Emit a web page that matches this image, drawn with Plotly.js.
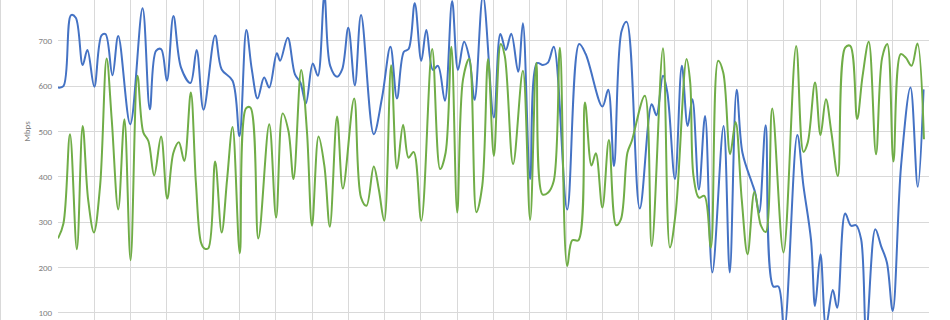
<!DOCTYPE html>
<html>
<head>
<meta charset="utf-8">
<script src="https://cdn.plot.ly/plotly-3.0.1.min.js"></script>
<style>
  html, body { margin: 0; padding: 0; width: 950px; height: 320px; overflow: hidden; background: #ffffff; }
  #wrap { position: absolute; left: 0; top: 0; width: 950px; height: 320px; overflow: hidden; }
  #chart { position: absolute; left: 0; top: -95px; width: 950px; height: 493px; }
  #edge { position: absolute; left: 0; top: 0; width: 1px; height: 320px; background: #d9d9d9; }
</style>
</head>
<body>
<div id="wrap"><div id="chart"></div><div id="edge"></div></div>
<script>
// Time positions (in grid-interval units) and throughput values (Mbps)
const blueX = [0, 0.15, 0.36, 0.49, 0.68, 0.81, 1.00, 1.20, 1.31, 1.50, 1.66, 1.99, 2.33, 2.53, 2.70, 2.84, 3.00, 3.18, 3.39, 3.65,
  3.82, 4.01, 4.33, 4.51, 4.81, 5.00, 5.19, 5.34, 5.50, 5.68, 5.82, 6.03, 6.12, 6.33, 6.53, 6.68, 6.83, 7.02, 7.16, 7.34,
  7.50, 7.69, 7.83, 8.00, 8.18, 8.35, 8.70, 8.93, 9.16, 9.34, 9.53, 9.66, 9.83, 10.01, 10.15, 10.33, 10.47, 10.66, 10.86, 11.02,
  11.19, 11.34, 11.48, 11.71, 12.01, 12.19, 12.34, 12.49, 12.68, 12.81, 13.01, 13.20, 13.36, 13.50, 13.66, 14.03, 14.36, 14.54, 15.00, 15.16,
  15.32, 15.53, 15.67, 16.03, 16.36, 16.49, 16.67, 16.79, 17.00, 17.19, 17.35, 17.48, 17.66, 17.83, 18.03, 18.34, 18.51, 18.70, 18.86, 19.12,
  19.21, 19.32, 19.50, 19.71, 19.85, 20.01, 20.37, 20.54, 20.75, 20.86, 21.01, 21.16, 21.35, 21.47, 21.69, 21.85, 21.99, 22.13, 22.27, 22.52,
  22.68, 22.84, 23.00, 23.23, 23.49, 23.69, 23.85];
const blueY = [597, 600, 757, 751, 647, 680, 599, 712, 715, 624, 711, 516, 772, 549, 678, 682, 612, 755, 641, 607,
  680, 548, 712, 637, 612, 490, 724, 637, 573, 619, 597, 673, 656, 707, 626, 608, 562, 650, 623, 800,
  645, 621, 637, 729, 602, 757, 494, 575, 687, 573, 676, 682, 783, 656, 724, 636, 645, 568, 788, 636,
  698, 660, 570, 800, 531, 715, 680, 716, 632, 739, 395, 651, 647, 652, 687, 328, 693, 671, 555, 592,
  424, 722, 742, 330, 560, 536, 623, 586, 395, 645, 512, 571, 372, 534, 189, 512, 189, 592, 453, 387,
  365, 321, 514, 158, 158, 60, 492, 380, 260, 115, 229, 70, 150, 111, 319, 292, 293, 262, 55, 284,
  247, 211, 104, 424, 597, 378, 593];

const greenX = [0, 0.15, 0.33, 0.52, 0.68, 0.83, 0.99, 1.16, 1.34, 1.48, 1.66, 1.83, 2.00, 2.19, 2.35, 2.49, 2.65, 2.84, 3.01, 3.18,
  3.33, 3.48, 3.66, 3.80, 3.94, 4.03, 4.14, 4.33, 4.51, 4.66, 4.81, 5.01, 5.18, 5.30, 5.52, 5.82, 6.01, 6.19, 6.35, 6.49,
  6.70, 6.86, 7.00, 7.18, 7.34, 7.49, 7.69, 7.85, 8.16, 8.35, 8.50, 8.70, 8.84, 8.99, 9.18, 9.34, 9.51, 9.66, 9.80, 10.01,
  10.31, 10.53, 10.68, 10.84, 11.00, 11.16, 11.33, 11.53, 11.69, 11.85, 12.01, 12.20, 12.31, 12.54, 12.81, 13.01, 13.18, 13.35, 13.50, 13.66,
  13.83, 14.03, 14.17, 14.34, 14.52, 14.70, 14.82, 15.00, 15.18, 15.38, 15.51, 15.69, 15.81, 16.17, 16.36, 16.67, 16.86, 17.02, 17.32, 17.42,
  17.51, 17.66, 17.81, 17.99, 18.19, 18.33, 18.52, 18.67, 18.84, 19.00, 19.19, 19.37, 19.50, 19.68, 19.99, 20.34, 20.54, 20.66, 20.86, 21.01,
  21.16, 21.31, 21.49, 21.69, 21.83, 22.02, 22.17, 22.34, 22.54, 22.71, 22.85, 23.02, 23.22, 23.36, 23.52, 23.68, 23.86];
const greenY = [264, 297, 494, 240, 512, 350, 277, 380, 661, 527, 328, 527, 216, 623, 498, 479, 403, 489, 352, 453,
  476, 435, 586, 387, 255, 242, 242, 434, 277, 395, 510, 231, 551, 553, 264, 516, 310, 540, 501, 395,
  636, 500, 292, 489, 424, 290, 533, 374, 573, 354, 336, 423, 372, 303, 646, 418, 515, 442, 455, 303,
  682, 417, 453, 687, 321, 615, 660, 322, 380, 660, 446, 693, 667, 428, 634, 305, 652, 361, 365, 391,
  685, 203, 260, 260, 564, 425, 452, 332, 481, 293, 306, 453, 479, 579, 247, 684, 244, 321, 660, 608,
  402, 354, 358, 244, 656, 630, 450, 521, 350, 229, 367, 292, 278, 551, 233, 689, 455, 476, 608, 492,
  571, 498, 402, 685, 689, 528, 623, 698, 450, 663, 693, 434, 671, 663, 645, 694, 483];

const yTicks = [0, 100, 200, 300, 400, 500, 600, 700, 800, 900, 1000];
const yTickText = ['0', '100', '200', '300', '400', '500', '600', '700', '', '', ''];
const yLabel = 'Mbps';

const traces = [
  { x: blueX, y: blueY, type: 'scatter', mode: 'lines', name: 'Series 1',
    line: { color: '#4472C4', width: 2, shape: 'spline', smoothing: 1 } },
  { x: greenX, y: greenY, type: 'scatter', mode: 'lines', name: 'Series 2',
    line: { color: '#70AD47', width: 2, shape: 'spline', smoothing: 1 } }
];

const layout = {
  width: 950, height: 493,
  margin: { l: 58, r: 21, t: 0, b: 40, pad: 0 },
  paper_bgcolor: '#ffffff', plot_bgcolor: '#ffffff',
  showlegend: false,
  hovermode: false,
  font: { family: 'Calibri, Carlito, "Liberation Sans", Arial, sans-serif', color: '#7f7f7f', size: 9 },
  xaxis: {
    range: [0, 24], dtick: 1, tick0: 0, showgrid: true, gridcolor: '#d9d9d9', gridwidth: 1,
    zeroline: false, showline: false, showticklabels: false, ticks: ''
  },
  yaxis: {
    range: [0, 1000], tickvals: yTicks, ticktext: yTickText,
    showgrid: true, gridcolor: '#d9d9d9', gridwidth: 1, zeroline: false, showline: false,
    ticks: 'outside', ticklen: 3, tickcolor: 'rgba(0,0,0,0)',
    tickfont: { size: 9, color: '#7f7f7f' },
    title: { text: yLabel, font: { size: 9, color: '#7f7f7f' }, standoff: 6 }
  }
};

Plotly.newPlot('chart', traces, layout, { displayModeBar: false, staticPlot: true });
</script>
</body>
</html>
